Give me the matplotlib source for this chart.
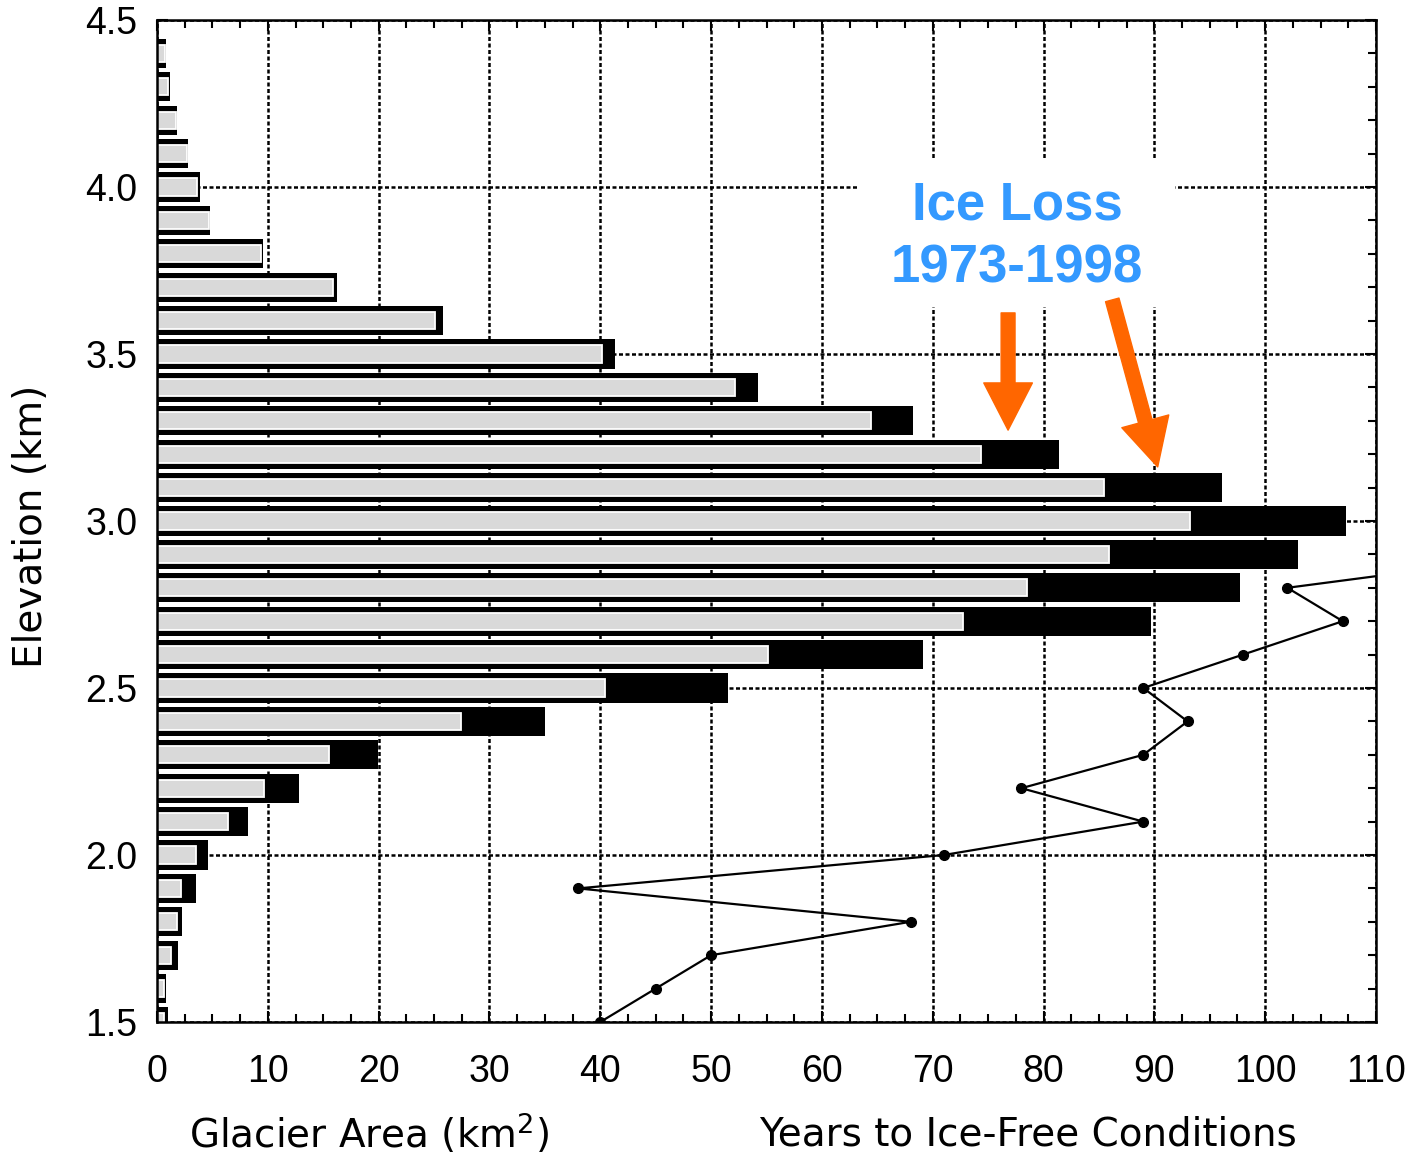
import matplotlib
matplotlib.use("Agg")
import matplotlib.pyplot as plt
from matplotlib.ticker import MultipleLocator
from matplotlib.patches import Rectangle

# ---------------- data ----------------
elevation_km = [1.5, 1.6, 1.7, 1.8, 1.9, 2.0, 2.1, 2.2, 2.3, 2.4,
                2.5, 2.6, 2.7, 2.8, 2.9, 3.0, 3.1, 3.2, 3.3, 3.4,
                3.5, 3.6, 3.7, 3.8, 3.9, 4.0, 4.1, 4.2, 4.3, 4.4]
area_1973 = [1.0, 0.8, 1.9, 2.3, 3.5, 4.6, 8.2, 12.8, 19.9, 35.0,
             51.5, 69.1, 89.7, 97.7, 103.0, 107.3, 96.1, 81.4, 68.2, 54.2,
             41.3, 25.8, 16.2, 9.6, 4.8, 3.9, 2.8, 1.8, 1.2, 0.8]
area_1998 = [0.6, 0.6, 1.3, 1.8, 2.2, 3.5, 6.4, 9.7, 15.5, 27.4,
             40.4, 55.1, 72.7, 78.5, 85.9, 93.2, 85.5, 74.4, 64.4, 52.2,
             40.2, 25.1, 15.9, 9.4, 4.7, 3.6, 2.7, 1.7, 1.0, 0.7]

line_elev = [1.5, 1.6, 1.7, 1.8, 1.9, 2.0, 2.1, 2.2, 2.3, 2.4,
             2.5, 2.6, 2.7, 2.8, 2.9]
years_ice_free = [40, 45, 50, 68, 38, 71, 89, 78, 89, 93,
                  89, 98, 107, 102, 125]

x_ticks = [0, 10, 20, 30, 40, 50, 60, 70, 80, 90, 100, 110]
y_ticks = [1.5, 2.0, 2.5, 3.0, 3.5, 4.0, 4.5]
y_ticklabels = ["1.5", "2.0", "2.5", "3.0", "3.5", "4.0", "4.5"]

# ---------------- figure ----------------
fig = plt.figure(figsize=(14.14, 11.57), dpi=100)
ax = fig.add_axes([157/1414, 1 - 1022/1157, (1376-157)/1414, (1022-20)/1157])

ax.set_xlim(0, 110)
ax.set_ylim(1.5, 4.5)
ax.set_axisbelow(True)

# grid (dotted)
ax.grid(True, which="major", color="black", linestyle=(0, (1.6, 1.0)),
        linewidth=1.8, zorder=0)

# bars
ax.barh(elevation_km, area_1973, height=0.087, color="black",
        edgecolor="none", zorder=2)
ax.barh(elevation_km, area_1998, height=0.052, color="#d9d9d9",
        edgecolor="white", linewidth=1.3, zorder=3)

# years-to-ice-free line
ax.plot(years_ice_free, line_elev, color="black", linewidth=1.6,
        marker="o", markersize=7, zorder=5, clip_on=True)

# white box behind annotation text (covers grid)
ax.add_patch(Rectangle((63.2, 3.641), 28.7, 0.44, facecolor="white",
                       edgecolor="none", zorder=1))

ax.text(77.6, 3.945, "Ice Loss", color="#3399ff", fontsize=38,
        fontweight="bold", family="Liberation Sans", ha="center",
        va="center", zorder=6)
ax.text(77.6, 3.755, "1973-1998", color="#3399ff", fontsize=38,
        fontweight="bold", family="Liberation Sans", ha="center",
        va="center", zorder=6)

orange = "#ff6600"
arrow_style = "simple,tail_width=10,head_width=35,head_length=34"
ax.annotate("", xy=(76.8, 3.272), xytext=(76.8, 3.623),
            arrowprops=dict(arrowstyle=arrow_style, color=orange,
                            mutation_scale=1, shrinkA=0, shrinkB=0),
            zorder=7)
ax.annotate("", xy=(90.3, 3.162), xytext=(86.2, 3.662),
            arrowprops=dict(arrowstyle=arrow_style, color=orange,
                            mutation_scale=1, shrinkA=0, shrinkB=0),
            zorder=7)

# ticks
ax.set_xticks(x_ticks)
ax.set_xticklabels([str(v) for v in x_ticks])
ax.set_yticks(y_ticks)
ax.set_yticklabels(y_ticklabels)
ax.xaxis.set_minor_locator(MultipleLocator(2.5))
ax.yaxis.set_minor_locator(MultipleLocator(0.1))
ax.tick_params(which="both", direction="in", top=True, right=True,
               width=1.5, colors="black")
ax.tick_params(which="major", length=8)
ax.tick_params(which="minor", length=6)
ax.tick_params(axis="x", which="major", pad=23)
ax.tick_params(axis="y", which="major", pad=14)
for lab in ax.get_xticklabels() + ax.get_yticklabels():
    lab.set_fontfamily("Liberation Sans")
    lab.set_fontsize(27)

for s in ax.spines.values():
    s.set_linewidth(1.8)
    s.set_zorder(8)

# axis labels
fig.text(369/1414, 1 - 1134/1157, r"Glacier Area (km$^2$)", fontsize=28,
         family="DejaVu Sans", ha="center", va="center")
fig.text(1028/1414, 1 - 1134/1157, "Years to Ice-Free Conditions",
         fontsize=28, family="DejaVu Sans", ha="center", va="center")
fig.text(31/1414, 1 - 526/1157, "Elevation (km)", fontsize=28,
         family="DejaVu Sans", rotation=90, ha="center", va="center")

fig.savefig("out.png", dpi=100, facecolor="white")
